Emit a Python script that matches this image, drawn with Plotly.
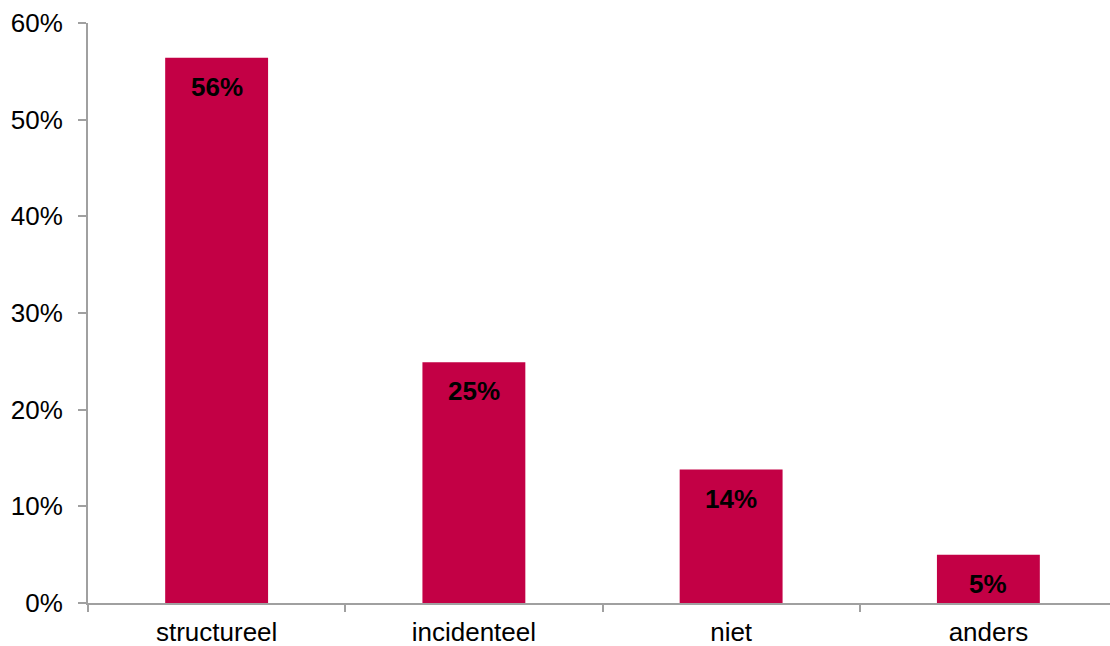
import plotly.graph_objects as go

categories = ["structureel", "incidenteel", "niet", "anders"]
values = [56.4, 24.9, 13.8, 5.0]
labels = ["56%", "25%", "14%", "5%"]
yticks = [0, 10, 20, 30, 40, 50, 60]

bar_color = "#C30045"
axis_color = "#A0A0A0"
font_family = "Liberation Sans, Arial, sans-serif"

fig = go.Figure()
fig.add_trace(go.Bar(
    x=categories, y=values, width=0.4,
    marker=dict(color=bar_color, line=dict(width=0)),
    hoverinfo="skip",
))

for c, v, t in zip(categories, values, labels):
    fig.add_annotation(
        x=c, y=v, text="<b>%s</b>" % t, showarrow=False,
        yanchor="middle", yshift=-29,
        font=dict(family=font_family, size=26, color="black"),
    )

# plot area extends slightly past the right edge of the window, as in the reference
fig.update_layout(
    width=1117, height=646,
    margin=dict(l=88, r=0, t=23, b=43),
    paper_bgcolor="white", plot_bgcolor="white",
    showlegend=False, bargap=0.6,
    font=dict(family=font_family, size=26, color="black"),
)
fig.update_xaxes(
    showline=True, linecolor=axis_color, linewidth=2,
    ticks="outside", tickson="boundaries", ticklen=7, tickcolor=axis_color, tickwidth=2,
    showgrid=False, tickfont=dict(size=26), automargin=False, ticklabelstandoff=5,
)
fig.update_yaxes(
    range=[0, 60], tickvals=yticks, ticktext=["%d%%" % v for v in yticks],
    showline=True, linecolor=axis_color, linewidth=2,
    ticks="outside", ticklen=8, tickcolor=axis_color, tickwidth=2,
    showgrid=False, zeroline=False, ticklabelstandoff=10,
    tickfont=dict(size=26), automargin=False,
)

fig.write_html(
    "out.html",
    config={"displayModeBar": False},
    post_script="document.body.style.margin='0';document.body.style.overflow='hidden';",
)
